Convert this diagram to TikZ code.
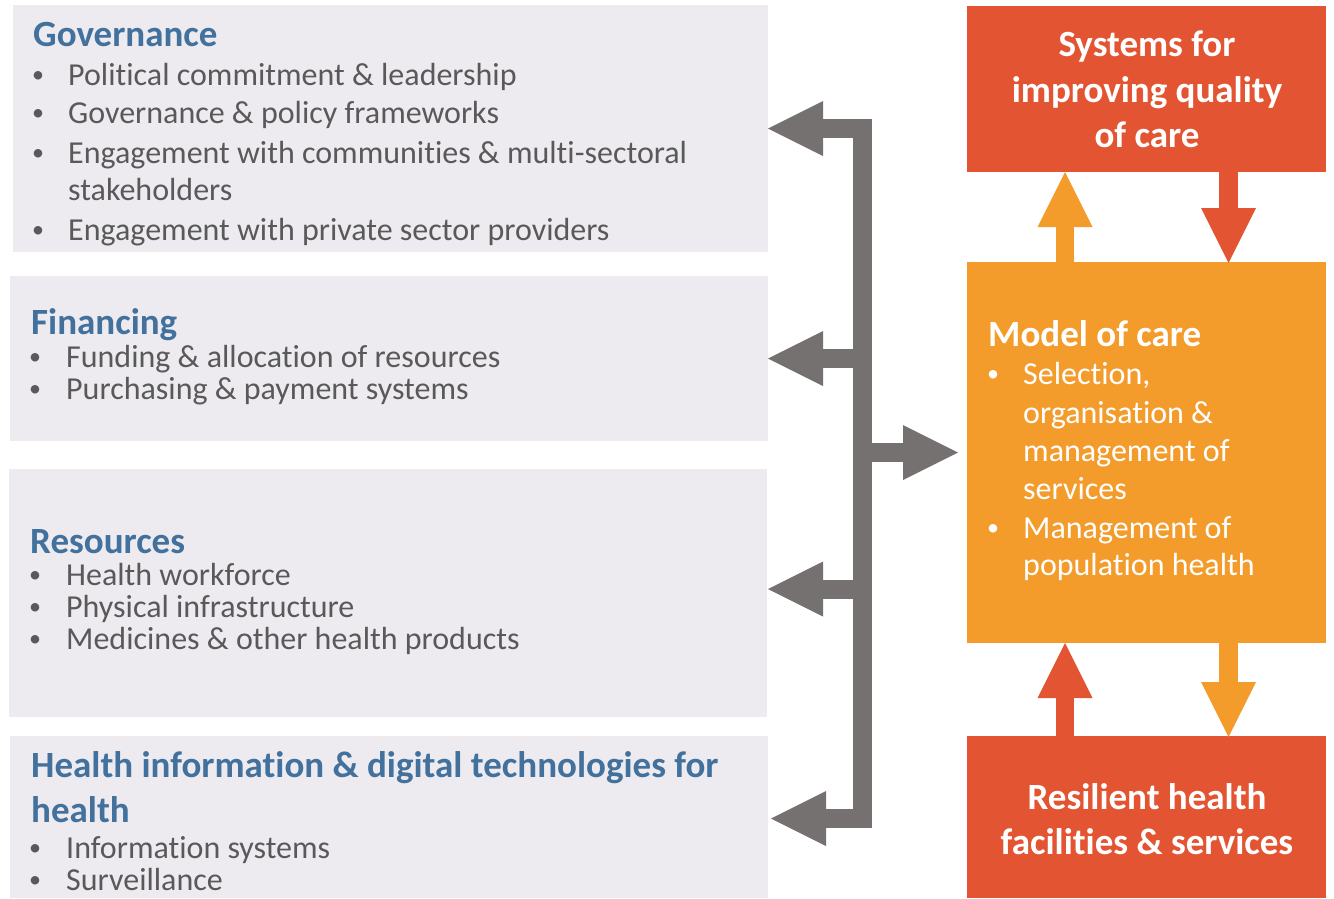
\documentclass[tikz,border=0pt]{standalone}
\usepackage{fontspec}
\setmainfont{Carlito}[Ligatures={NoCommon,NoContextual,NoRare}]
\usetikzlibrary{arrows.meta}
\definecolor{boxgray}{HTML}{EDEBF0}
\definecolor{titleblue}{HTML}{41719C}
\definecolor{txtgray}{HTML}{595959}
\definecolor{qred}{HTML}{E35532}
\definecolor{qorange}{HTML}{F39C2C}
\definecolor{arrgray}{HTML}{767171}
\newcommand{\bul}{\raisebox{2.5pt}{•}}
\begin{document}
\begin{tikzpicture}[x=1pt,y=-1pt,
  box/.style={draw=none,inner sep=0pt,outer sep=0pt,anchor=north west},
  ttl/.style={anchor=base west,inner sep=0pt,text=titleblue,font=\fontsize{37}{44}\selectfont\bfseries},
  itm/.style={anchor=base west,inner sep=0pt,text=txtgray,font=\fontsize{32}{38}\selectfont},
  dotm/.style={anchor=base,inner sep=0pt,text=txtgray,font=\fontsize{24}{28}\selectfont},
  witm/.style={itm,text=white},
  wdot/.style={dotm,text=white},
  wttl/.style={anchor=base west,inner sep=0pt,text=white,font=\fontsize{37}{44}\selectfont\bfseries},
  wctr/.style={anchor=base,inner sep=0pt,text=white,font=\fontsize{37}{44}\selectfont\bfseries},
  tip/.style={-{Triangle[length=55pt,width=55pt,line width=0pt]}},
  garr/.style={draw=arrgray,line width=19pt},
  oarr/.style={draw=qorange,line width=18.5pt,tip},
  rarr/.style={draw=qred,line width=18.5pt,tip}]
\useasboundingbox (0,0) rectangle (1334,898);

% left boxes
\node[box,fill=boxgray,minimum width=755pt,minimum height=247pt] (gov) at (13,5) {};
\node[box,fill=boxgray,minimum width=758pt,minimum height=165pt] (fin) at (10,276) {};
\node[box,fill=boxgray,minimum width=758pt,minimum height=248pt] (res) at (9,469) {};
\node[box,fill=boxgray,minimum width=758pt,minimum height=162pt] (hinf) at (10,736) {};
% right boxes
\node[box,fill=qred,minimum width=359pt,minimum height=166pt] (sys) at (967,6) {};
\node[box,fill=qorange,minimum width=359pt,minimum height=381pt] (model) at (967,262) {};
\node[box,fill=qred,minimum width=359pt,minimum height=162pt] (resil) at (967,736) {};

% Governance
\node[ttl] (govt) at (33,46) {Governance};
\node[dotm] (gd1) at (38,85) {\bul};
\node[itm] (g1) at (68,85) {Political commitment \& leadership};
\node[dotm] (gd2) at (38,123) {\bul};
\node[itm] (g2) at (68,123) {Governance \& policy frameworks};
\node[dotm] (gd3) at (38,163) {\bul};
\node[itm] (g3) at (68,163) {Engagement with communities \& multi-sectoral};
\node[itm] (g3b) at (68,200) {stakeholders};
\node[dotm] (gd4) at (38,240) {\bul};
\node[itm] (g4) at (68,240) {Engagement with private sector providers};

% Financing
\node[ttl] (fint) at (31,334) {Financing};
\node[dotm] (fd1) at (35,367) {\bul};
\node[itm] (f1) at (66,367) {Funding \& allocation of resources};
\node[dotm] (fd2) at (35,399) {\bul};
\node[itm] (f2) at (66,399) {Purchasing \& payment systems};

% Resources
\node[ttl] (rest) at (30,553) {Resources};
\node[dotm] (rd1) at (35,585) {\bul};
\node[itm] (r1) at (66,585) {Health workforce};
\node[dotm] (rd2) at (35,617) {\bul};
\node[itm] (r2) at (66,617) {Physical infrastructure};
\node[dotm] (rd3) at (35,649) {\bul};
\node[itm] (r3) at (66,649) {Medicines \& other health products};

% Health information
\node[ttl] (hit1) at (31,777) {Health information \& digital technologies for};
\node[ttl] (hit2) at (31,822) {health};
\node[dotm] (hd1) at (35,858) {\bul};
\node[itm] (h1) at (66,858) {Information systems};
\node[dotm] (hd2) at (35,890) {\bul};
\node[itm] (h2) at (66,890) {Surveillance};

% Systems for improving quality of care
\node[wctr] (s1) at (1147,56) {Systems for};
\node[wctr] (s2) at (1147,102) {improving quality};
\node[wctr] (s3) at (1147,147) {of care};

% Model of care
\node[wttl] (mt) at (988,346) {Model of care};
\node[wdot] (md1) at (993,384) {\bul};
\node[witm] (m1) at (1023,384) {Selection,};
\node[witm] (m2) at (1023,423) {organisation \&};
\node[witm] (m3) at (1023,461) {management of};
\node[witm] (m4) at (1023,499) {services};
\node[wdot] (md2) at (993,538) {\bul};
\node[witm] (m5) at (1023,538) {Management of};
\node[witm] (m6) at (1023,575) {population health};

% Resilient
\node[wctr] (rs1) at (1147,809) {Resilient health};
\node[wctr] (rs2) at (1147,854) {facilities \& services};

% grey connector
\coordinate (btop) at (862.5,128.5);
\coordinate (bbot) at (862.5,818.5);
\coordinate (bfin) at (862.5,358.5);
\coordinate (bres) at (862.5,589);
\coordinate (bmod) at (862.5,452.5);
\draw[garr,{Triangle[length=55pt,width=55pt,line width=0pt]}-{Triangle[length=55pt,width=55pt,line width=0pt]}]
  (gov.east |- btop) -- (btop) -- (bbot) -- ([xshift=3pt]hinf.east |- bbot);
\draw[garr,tip] (bfin) -- (fin.east |- bfin);
\draw[garr,tip] (bres) -- ([xshift=1pt]res.east |- bres);
\draw[garr,tip] (bmod) -- ([xshift=-9pt]model.west |- bmod);

% orange / red arrows
\coordinate (xa) at (1065,0);
\coordinate (xb) at (1228.5,0);
\draw[oarr] (model.north -| xa) -- (sys.south -| xa);
\draw[rarr] (sys.south -| xb) -- ([yshift=-1pt]model.north -| xb);
\draw[rarr] (resil.north -| xa) -- (model.south -| xa);
\draw[oarr] (model.south -| xb) -- ([yshift=-1pt]resil.north -| xb);
\end{tikzpicture}
\end{document}
